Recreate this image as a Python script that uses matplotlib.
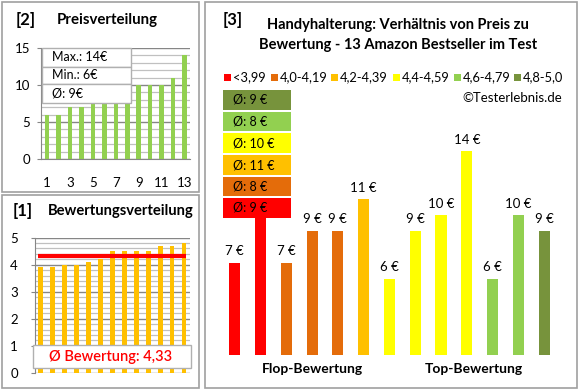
import matplotlib
matplotlib.use("Agg")
import matplotlib.pyplot as plt
from matplotlib.patches import Rectangle
from matplotlib.ticker import MultipleLocator

plt.rcParams['font.family'] = ['Lato', 'DejaVu Sans']

# ---------------- data ----------------
prices = [7, 10, 7, 9, 9, 11, 6, 9, 10, 14, 6, 10, 9]
ratings = [3.9, 3.9, 4.0, 4.0, 4.1, 4.2, 4.5, 4.5, 4.5, 4.5, 4.7, 4.7, 4.8]
rank_labels = [1, 2, 3, 4, 5, 6, 7, 8, 9, 10, 11, 12, 13]
class_labels = ["<3,99", "4,0-4,19", "4,2-4,39", "4,4-4,59", "4,6-4,79", "4,8-5,0"]
class_bounds = [0, 4.0, 4.2, 4.4, 4.6, 4.8, 5.01]
class_colors = ["#FF0000", "#E46C0A", "#FFC000", "#FFFF00", "#92D050", "#77933C"]

W, H = 580, 390
fig = plt.figure(figsize=(W / 100, H / 100), dpi=100)
fig.patch.set_facecolor("white")


def rect(x0, y0, x1, y1):
    return [x0 / W, 1 - y1 / H, (x1 - x0) / W, (y1 - y0) / H]


def fxy(x, y):
    return x / W, 1 - y / H


def cls(r):
    for k in range(len(class_labels)):
        if class_bounds[k] <= r < class_bounds[k + 1]:
            return k
    return len(class_labels) - 1


def rnd(v):
    return int(v + 0.5)


border = "#A0A0A0"
# panel borders
for (x0, y0, x1, y1) in [(2, 2, 199, 192), (2, 195, 199, 388), (205, 2, 577, 388)]:
    fig.add_artist(Rectangle((x0 / W, 1 - y1 / H), (x1 - x0) / W, (y1 - y0) / H,
                             transform=fig.transFigure, fill=False, edgecolor=border, lw=1.2, zorder=0))

grid_major = "#868686"
grid_minor = "#C0C0C0"

# ---------------- panel [2] Preisverteilung ----------------
ax2 = fig.add_axes(rect(41.3, 48, 190.3, 159))
sp = sorted(prices)
xs = list(range(len(sp)))
ax2.set_xlim(-0.5, len(sp) - 0.5)
ax2.set_ylim(0, 15)
ax2.yaxis.set_major_locator(MultipleLocator(5))
ax2.yaxis.set_minor_locator(MultipleLocator(1))
ax2.grid(axis='y', which='major', color=grid_major, lw=1.0, zorder=0)
ax2.grid(axis='y', which='minor', color=grid_minor, lw=0.9, zorder=0)
ax2.bar(xs, sp, width=0.4, color="#92D050", zorder=2)
ax2.set_xticks(xs[::2])
ax2.set_xticklabels([str(rank_labels[i]) for i in xs[::2]])
for s in ['top', 'right']:
    ax2.spines[s].set_visible(False)
for s in ['left', 'bottom']:
    ax2.spines[s].set_color(grid_major)
ax2.tick_params(axis='y', which='major', length=3, color=grid_major, labelsize=9.5, pad=5)
ax2.tick_params(axis='y', which='minor', length=0)
ax2.tick_params(axis='x', length=0, labelsize=9.5, pad=13)
ax2.set_axisbelow(True)

# stats box
bx0, bx1 = 42, 131
rows = [(48, 66.7, "Max.: %d€" % max(prices)), (66.7, 84, "Min.: %d€" % min(prices)),
        (84, 103, "Ø: %d€" % rnd(sum(prices) / len(prices)))]
for (y0, y1, t) in rows:
    fig.add_artist(Rectangle((bx0 / W, 1 - y1 / H), (bx1 - bx0) / W, (y1 - y0) / H,
                             transform=fig.transFigure, facecolor="white", edgecolor="#B0B0B0", lw=1, zorder=5))
    fig.text(*fxy(52, (y0 + y1) / 2), t, fontsize=9, va='center', ha='left', zorder=6)

fig.text(*fxy(16, 20), "[2]", fontsize=12, fontweight='bold', va='center', ha='left')
fig.text(*fxy(57, 20), "Preisverteilung", fontsize=10.8, fontweight='bold', va='center', ha='left')

# ---------------- panel [1] Bewertungsverteilung ----------------
ax1 = fig.add_axes(rect(34.7, 237.7, 190, 372.7))
sr = sorted(ratings)
xr = list(range(len(sr)))
ax1.set_xlim(-0.5, len(sr) - 0.5)
ax1.set_ylim(0, 5)
ax1.yaxis.set_major_locator(MultipleLocator(1))
ax1.yaxis.set_minor_locator(MultipleLocator(0.2))
ax1.grid(axis='y', which='major', color=grid_major, lw=1.0, zorder=0)
ax1.grid(axis='y', which='minor', color=grid_minor, lw=0.9, zorder=0)
ax1.bar(xr, sr, width=0.4, color="#FFC000", zorder=2)
mean_r = sum(ratings) / len(ratings)
ax1.plot([-0.2, len(sr) - 1 + 0.2], [mean_r, mean_r], color="#FF0000", lw=3, zorder=3,
         solid_capstyle='butt')
ax1.set_xticks([])
for s in ['top', 'right', 'bottom']:
    ax1.spines[s].set_visible(False)
ax1.spines['left'].set_color(grid_major)
ax1.tick_params(axis='y', which='major', length=3, color=grid_major, labelsize=9.5, pad=9)
ax1.tick_params(axis='y', which='minor', length=0)
ax1.set_axisbelow(True)

fig.add_artist(Rectangle((33 / W, 1 - 368 / H), (191 - 33) / W, (368 - 345) / H,
                         transform=fig.transFigure, facecolor="white", edgecolor="#B0B0B0", lw=1, zorder=5))
fig.text(*fxy(111, 357.5), "Ø Bewertung: " + ("%.2f" % mean_r).replace(".", ","), fontsize=10.5,
         color="#FF0000", fontweight='semibold', va='center', ha='center', zorder=6)

fig.text(*fxy(13, 211), "[1]", fontsize=12, fontweight='bold', va='center', ha='left')
fig.text(*fxy(48, 211), "Bewertungsverteilung", fontsize=10.6, fontweight='bold', va='center', ha='left')

# ---------------- panel [3] ----------------
ax3 = fig.add_axes(rect(221.8, 130, 557, 355))
ax3.set_xlim(-0.5, len(prices) - 0.5)
ax3.set_ylim(1.2, 15.35)
bar_cols = [class_colors[cls(r)] for r in ratings]
ax3.bar(range(len(prices)), [p - 1.2 for p in prices], bottom=1.2, width=0.43, color=bar_cols, zorder=2)
for i, p in enumerate(prices):
    ax3.annotate("%d €" % p, (i, p), xytext=(0, 4), textcoords='offset points',
                 ha='center', va='bottom', fontsize=9.5)
ax3.axis('off')

fig.text(*fxy(223, 20), "[3]", fontsize=12, fontweight='bold', va='center', ha='left')
fig.text(*fxy(398, 25), "Handyhalterung: Verhältnis von Preis zu", fontsize=10.5, fontweight='bold',
         va='center', ha='center')
fig.text(*fxy(398, 45), "Bewertung - 13 Amazon Bestseller im Test", fontsize=10.5, fontweight='bold',
         va='center', ha='center')

# legend
leg_x = [224, 271, 331, 393, 454, 514]
for k in range(len(class_labels)):
    fig.add_artist(Rectangle(((leg_x[k]) / W, 1 - 81 / H), 7 / W, 7 / H, transform=fig.transFigure,
                             facecolor=class_colors[k], edgecolor='none'))
    fig.text(*fxy(leg_x[k] + 9, 77.5), class_labels[k], fontsize=9.3, va='center', ha='left')

fig.text(*fxy(562, 98), "©Testerlebnis.de", fontsize=9.5, va='center', ha='right')

# average boxes (one per rating class, top = best)
box_y = [(90, 110), (112, 131), (133, 153), (155, 175), (177, 196), (198, 218)]
for j, k in enumerate(range(len(class_labels) - 1, -1, -1)):
    vals = [p for p, r in zip(prices, ratings) if cls(r) == k]
    if not vals:
        continue
    y0, y1 = box_y[j]
    fig.add_artist(Rectangle((223 / W, 1 - y1 / H), (291 - 223) / W, (y1 - y0) / H,
                             transform=fig.transFigure, facecolor=class_colors[k], edgecolor='none', zorder=5))
    fig.text(*fxy(233, (y0 + y1) / 2), "Ø: %d €" % rnd(sum(vals) / len(vals)), fontsize=9,
             va='center', ha='left', zorder=6)

fig.text(*fxy(312, 369), "Flop-Bewertung", fontsize=10, fontweight='bold', va='center', ha='center')
fig.text(*fxy(474, 369), "Top-Bewertung", fontsize=10, fontweight='bold', va='center', ha='center')

fig.savefig("out.png", dpi=100, facecolor="white")
